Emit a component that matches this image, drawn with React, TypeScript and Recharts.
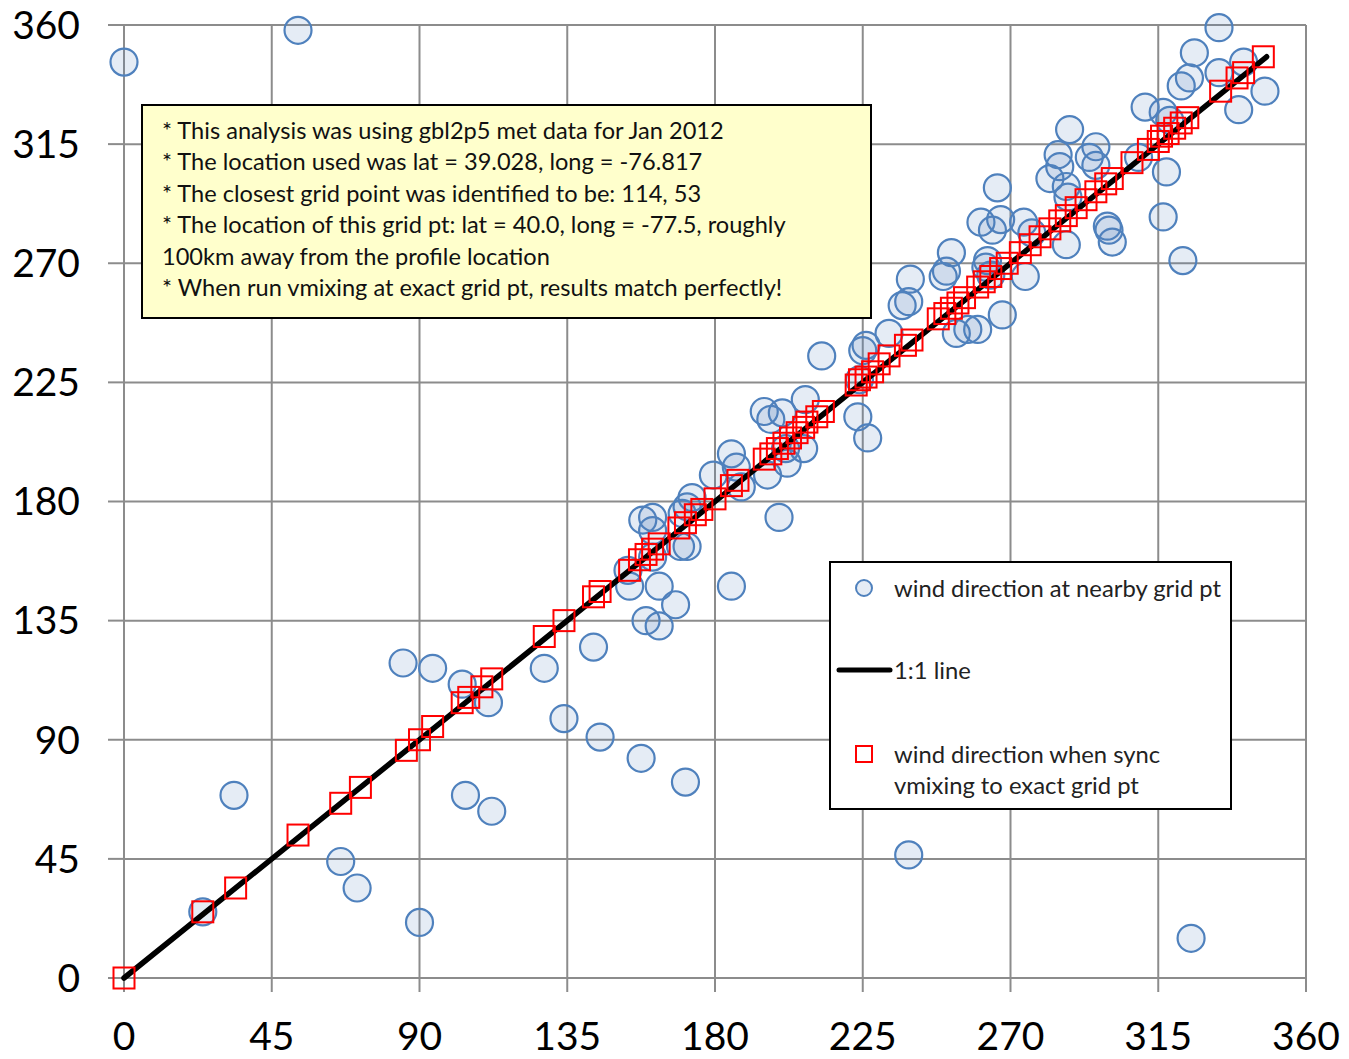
import React from 'react'
import { ScatterChart, Scatter, XAxis, YAxis, CartesianGrid } from 'recharts'

// wind direction at the nearby grid point: [vmixing at location, grid pt value]
const nearbyPts: [number, number][] = [
  [0, 346], [53, 358], [33.5, 69], [24, 25], [66, 44], [71, 34], [90, 21], [85, 119],
  [94, 117], [103, 111], [111, 104], [104, 69], [112, 63], [128, 117], [134, 98], [143, 125],
  [145, 91], [157.5, 83], [171, 74], [159, 135], [163, 133], [168, 141], [163, 148], [154, 148],
  [153.5, 154], [185, 148], [199.5, 174], [239, 46.5], [325, 15], [322.5, 271], [316.5, 287.5],
  [317.5, 304.5], [339.5, 328], [347.5, 335], [333.5, 359], [326, 349.5], [341, 346], [333.5, 342],
  [324.5, 340], [322, 337], [311, 329], [316.5, 327], [318.5, 324], [288, 320.5], [284.5, 311],
  [296, 314], [294, 310], [296, 307], [285, 306.5], [282, 302], [287, 299], [287.5, 295], [309, 310],
  [300, 282.5], [301, 278], [287, 277], [299.5, 284], [274, 285.5], [276.5, 281.5], [266, 298.5],
  [261, 285.5], [267, 286.5], [264.5, 282.5], [263, 271], [274.5, 265], [267.5, 250.5], [252, 274],
  [239.5, 264], [239, 255.5], [237, 254], [249.5, 265], [250.5, 267], [262.5, 268.5], [264, 265.5],
  [233, 243.5], [226, 239], [253.5, 243.5], [257, 245], [260, 245], [212.5, 235], [225, 237],
  [224, 226], [223.5, 212], [226.5, 204], [195, 214], [200.5, 213.5], [207.5, 218.5], [197, 211],
  [201.5, 200], [207, 200], [202, 194.5], [185, 198], [186.5, 193], [179.5, 190], [196, 190],
  [188, 185.5], [173, 181.5], [171.5, 178], [158, 173], [161, 174], [161, 169], [170, 175.5],
  [171.5, 163], [161, 159], [169.5, 163],
]

// wind direction when vmixing is synced to the exact grid point
const exactPts: [number, number][] = [
  [0, 0], [24, 25], [34, 34], [53, 54], [66, 66], [72, 72], [86, 86], [90, 90], [94, 95],
  [103, 104], [105, 106], [109, 110], [112, 113], [128, 129], [134, 135], [143, 144], [145, 146],
  [154, 154], [157, 158], [159, 160], [161, 162], [163, 164], [169, 170], [171, 172], [174, 175],
  [176, 177], [180, 181], [185, 186], [187, 188], [195, 196], [197, 198], [199, 200], [201, 202],
  [203, 204], [205, 206], [207, 208], [208, 210], [211, 212], [213, 214], [223, 224], [224, 226],
  [226, 227], [228, 229], [230, 232], [233, 235], [238, 239], [240, 241], [248, 249], [250, 251],
  [252, 253], [254, 255], [256, 257], [260, 261], [262, 263], [264, 265], [267, 268], [269, 270],
  [273, 274], [276, 277], [279, 280], [282, 283], [285, 286], [287, 288], [290, 291], [293, 294],
  [296, 297], [299, 300], [301, 302], [307, 308], [312, 313], [315, 316], [316, 318], [318, 319],
  [320, 321], [322, 323], [324, 325], [334, 335], [339, 340], [341, 342], [347, 348],
]

const oneToOne = [0, 348]
const axisTicks = [0, 45, 90, 135, 180, 225, 270, 315, 360]

const notes = [
  '* This analysis was using gbl2p5 met data for Jan 2012',
  '* The location used was lat = 39.028, long = -76.817',
  '* The closest grid point was identified to be: 114, 53',
  '* The location of this grid pt: lat = 40.0, long = -77.5, roughly',
  '100km away from the profile location',
  '* When run vmixing at exact grid pt, results match perfectly!',
]

const BLUE = '#4F81BD'
const GRID = '#8c8c8c'
const FONT = 'Lato, "Open Sans", sans-serif'

const toRows = (pts: [number, number][]) => pts.map(([x, y]) => ({ x, y }))

const Bubble = (p: any) => (
  <circle cx={p.cx} cy={p.cy} r={13.5} fill={BLUE} fillOpacity={0.15} stroke={BLUE} strokeWidth={2.2} />
)

const Box = (p: any) => (
  <rect x={p.cx - 10.5} y={p.cy - 10.5} width={21} height={21} fill="none" stroke="#ff0000" strokeWidth={2} />
)

const NoDot = () => <g />

export default function App() {
  const lineRows = oneToOne.map((v) => ({ x: v, y: v }))
  const tickStyle = { fill: '#000', fontSize: 39, fontFamily: FONT }

  return (
    <div style={{ position: 'absolute', left: 0, top: 0, width: 1349, height: 1059, background: '#fff' }}>
      <ScatterChart width={1349} height={1059} margin={{ top: 25, right: 43, bottom: 0, left: 0 }}>
        <CartesianGrid stroke={GRID} strokeWidth={2} />
        <XAxis
          type="number"
          dataKey="x"
          domain={[0, 360]}
          ticks={axisTicks}
          height={81}
          axisLine={false}
          tickSize={14}
          tickMargin={30}
          tickLine={{ stroke: GRID, strokeWidth: 2 }}
          tick={tickStyle}
        />
        <YAxis
          type="number"
          dataKey="y"
          domain={[0, 360]}
          ticks={axisTicks}
          width={124}
          axisLine={false}
          tickSize={16}
          tickMargin={28}
          tickLine={{ stroke: GRID, strokeWidth: 2 }}
          tick={tickStyle}
        />
        <Scatter data={toRows(nearbyPts)} shape={Bubble} isAnimationActive={false} />
        <Scatter
          data={lineRows}
          shape={NoDot}
          line={{ stroke: '#000', strokeWidth: 5.5, strokeLinecap: 'round' }}
          isAnimationActive={false}
        />
        <Scatter data={toRows(exactPts)} shape={Box} isAnimationActive={false} />
      </ScatterChart>

      {/* annotation box */}
      <div
        style={{
          position: 'absolute', left: 141, top: 104, width: 731, height: 215, boxSizing: 'border-box',
          border: '2px solid #000', background: '#ffffcc', padding: '9px 0 0 19px',
          fontFamily: FONT, fontSize: 23.6, lineHeight: '31.4px', color: '#111', whiteSpace: 'nowrap',
        }}
      >
        {notes.map((t) => (
          <div key={t}>{t}</div>
        ))}
      </div>

      {/* legend */}
      <div
        style={{
          position: 'absolute', left: 829, top: 561, width: 403, height: 249, boxSizing: 'border-box',
          border: '2px solid #000', background: '#fff', fontFamily: FONT, fontSize: 23.8, color: '#222',
        }}
      >
        <svg width={403} height={249} style={{ position: 'absolute', left: -2, top: -2 }}>
          <circle cx={35} cy={27} r={8} fill={BLUE} fillOpacity={0.15} stroke={BLUE} strokeWidth={2} />
          <line x1={10} y1={109} x2={61} y2={109} stroke="#000" strokeWidth={5} strokeLinecap="round" />
          <rect x={27} y={185} width={16} height={16} fill="none" stroke="#ff0000" strokeWidth={2} />
        </svg>
        <div style={{ position: 'absolute', left: 63, top: 11, lineHeight: '28px', whiteSpace: 'nowrap' }}>
          wind direction at nearby grid pt
        </div>
        <div style={{ position: 'absolute', left: 63, top: 93, lineHeight: '28px', whiteSpace: 'nowrap' }}>
          1:1 line
        </div>
        <div style={{ position: 'absolute', left: 63, top: 176, lineHeight: '31px', whiteSpace: 'nowrap' }}>
          wind direction when sync
          <br />
          vmixing to exact grid pt
        </div>
      </div>
    </div>
  )
}
